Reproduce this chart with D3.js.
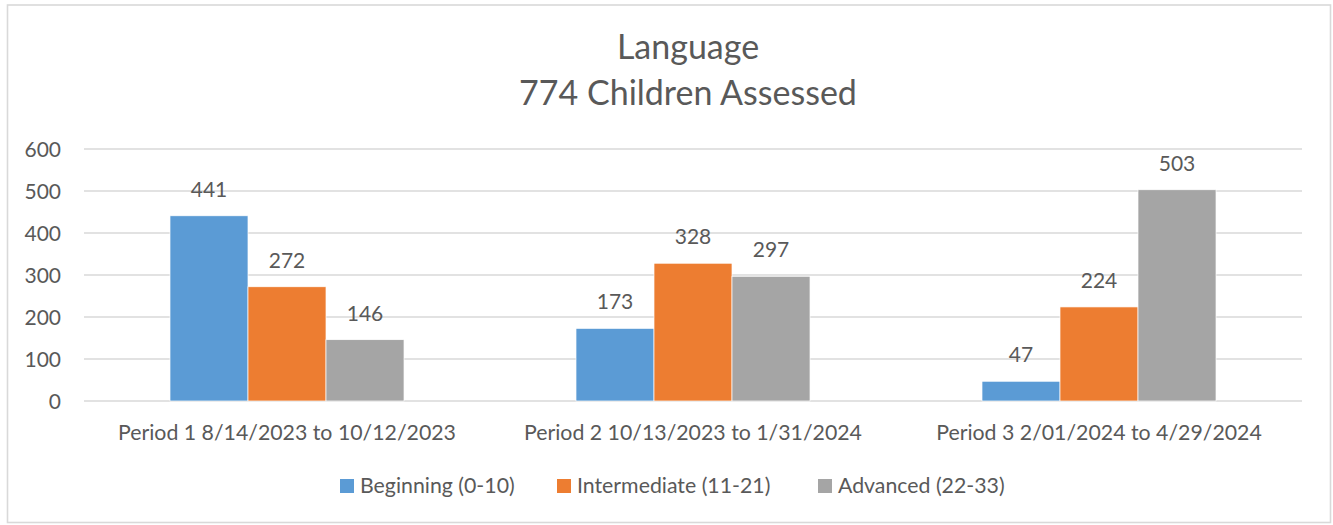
<!DOCTYPE html>
<html>
<head>
<meta charset="utf-8">
<script src="https://cdn.jsdelivr.net/npm/d3@7"></script>
<style>
  body { margin: 0; background: #fff; }
  text { font-family: Lato, "Open Sans", sans-serif; fill: #595959; }
</style>
</head>
<body>
<svg id="chart" width="1333" height="525"></svg>
<script>
var periods = ["Period 1 8/14/2023 to 10/12/2023", "Period 2 10/13/2023 to 1/31/2024", "Period 3 2/01/2024 to 4/29/2024"];
var seriesNames = ["Beginning (0-10)", "Intermediate (11-21)", "Advanced (22-33)"];
var beginning = [441, 173, 47];
var intermediate = [272, 328, 224];
var advanced = [146, 297, 503];
var yTicks = [0, 100, 200, 300, 400, 500, 600];
var colors = ["#5B9BD5", "#ED7D31", "#A5A5A5"];

var allSeries = [beginning, intermediate, advanced];

var svg = d3.select("#chart");

// chart border
svg.append("rect")
   .attr("x", 7.5).attr("y", 5)
   .attr("width", 1323).attr("height", 517.5)
   .attr("fill", "white")
   .attr("stroke", "#D9D9D9")
   .attr("stroke-width", 1.6);

// title
svg.append("text").text("Language")
   .attr("x", 688).attr("y", 59)
   .attr("text-anchor", "middle").attr("font-size", "34px");
svg.append("text").text("774 Children Assessed")
   .attr("x", 688).attr("y", 105)
   .attr("text-anchor", "middle").attr("font-size", "34px");

var x0 = d3.scaleBand().domain(periods).range([84, 1302]).paddingInner(0.4236).paddingOuter(0.2118);
var x1 = d3.scaleBand().domain(seriesNames).range([0, x0.bandwidth()]);
var y = d3.scaleLinear().domain([0, 600]).range([401, 149]);

// gridlines
svg.selectAll("line.grid")
   .data(yTicks)
   .enter()
   .append("line")
   .attr("class", "grid")
   .attr("x1", 84).attr("x2", 1302)
   .attr("y1", function(d) { return y(d); })
   .attr("y2", function(d) { return y(d); })
   .attr("stroke", "#D9D9D9")
   .attr("stroke-width", 1.3);

// y labels
svg.selectAll("text.ytick")
   .data(yTicks)
   .enter()
   .append("text")
   .attr("class", "ytick")
   .text(function(d) { return d; })
   .attr("x", 61)
   .attr("y", function(d) { return y(d); })
   .attr("dy", "0.36em")
   .attr("text-anchor", "end")
   .attr("font-size", "21px");

// bars
var groups = svg.selectAll("g.period")
   .data(periods)
   .enter()
   .append("g")
   .attr("class", "period")
   .attr("transform", function(d) { return "translate(" + x0(d) + ",0)"; });

groups.selectAll("rect")
   .data(function(d, i) {
     return seriesNames.map(function(s, j) { return {s: s, j: j, v: allSeries[j][i]}; });
   })
   .enter()
   .append("rect")
   .attr("x", function(d) { return x1(d.s); })
   .attr("y", function(d) { return y(d.v); })
   .attr("width", x1.bandwidth())
   .attr("height", function(d) { return y(0) - y(d.v); })
   .attr("fill", function(d) { return colors[d.j]; })
   .attr("stroke", "white")
   .attr("stroke-width", 0.7);

groups.selectAll("text.val")
   .data(function(d, i) {
     return seriesNames.map(function(s, j) { return {s: s, j: j, v: allSeries[j][i]}; });
   })
   .enter()
   .append("text")
   .attr("class", "val")
   .text(function(d) { return d.v; })
   .attr("x", function(d) { return x1(d.s) + x1.bandwidth() / 2; })
   .attr("y", function(d) { return y(d.v) - 19; })
   .attr("text-anchor", "middle")
   .attr("font-size", "21px");

// category labels
svg.selectAll("text.cat")
   .data(periods)
   .enter()
   .append("text")
   .attr("class", "cat")
   .text(function(d) { return d; })
   .attr("x", function(d) { return x0(d) + x0.bandwidth() / 2; })
   .attr("y", 440)
   .attr("text-anchor", "middle")
   .attr("font-size", "21.3px");

// legend
var legendX = [340, 557, 818];
var legend = svg.selectAll("g.legend")
   .data(seriesNames)
   .enter()
   .append("g")
   .attr("class", "legend")
   .attr("transform", function(d, i) { return "translate(" + legendX[i] + ",479)"; });
legend.append("rect")
   .attr("width", 14).attr("height", 14)
   .attr("fill", function(d, i) { return colors[i]; });
legend.append("text")
   .text(function(d) { return d; })
   .attr("x", 20).attr("y", 14)
   .attr("font-size", "21.3px");
</script>
</body>
</html>
